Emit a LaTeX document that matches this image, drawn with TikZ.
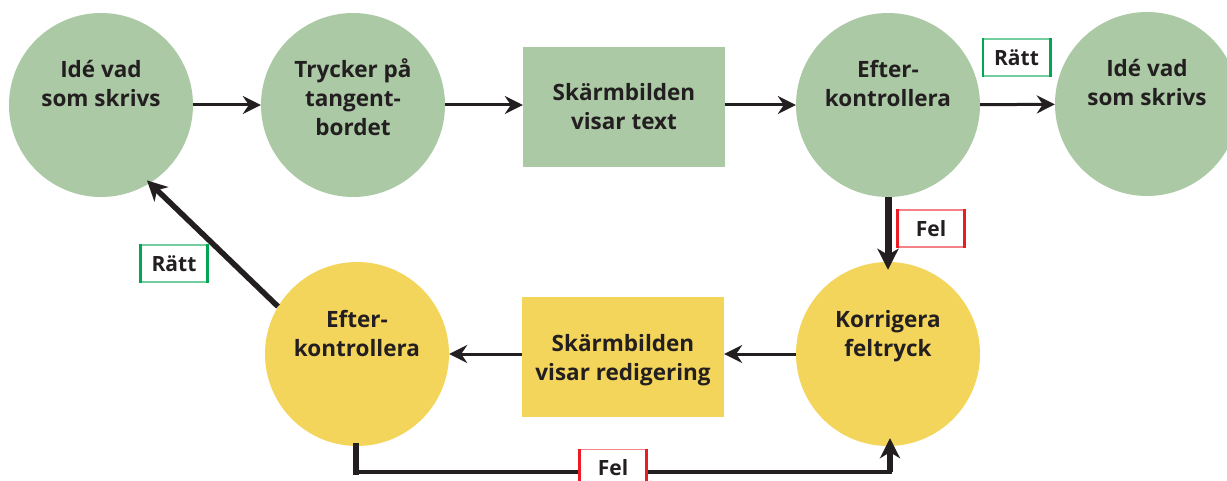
\documentclass[tikz,border=0pt]{standalone}
\usepackage{fontspec}
\setmainfont{Open Sans}
\usetikzlibrary{arrows.meta}

\definecolor{sage}{HTML}{ABC9A5}
\definecolor{sun}{HTML}{F4D55C}
\definecolor{ink}{HTML}{231F20}
\definecolor{okgreen}{HTML}{00A651}
\definecolor{errred}{HTML}{ED1C24}

\tikzset{
  disc/.style={circle, minimum size=184pt, inner sep=0pt, fill=#1},
  panel/.style={rectangle, minimum width=202pt, minimum height=120pt, inner sep=0pt, fill=#1},
  inscr/.style={font=\fontsize{22.5}{29}\selectfont\bfseries, text=ink, inner sep=0pt, anchor=base},
  verdictside/.style={draw=#1, line width=2.6pt, line cap=butt},
  verdict/.style={font=\fontsize{21}{25}\selectfont\bfseries, text=ink, fill=white,
    draw=#1!55, line width=1.4pt, minimum width=66pt, minimum height=37pt, inner sep=0pt,
    append after command={(\tikzlastnode.north west) edge[verdictside=#1] (\tikzlastnode.south west)
                          (\tikzlastnode.north east) edge[verdictside=#1] (\tikzlastnode.south east)}},
  tip/.style={-{Stealth[length=#1,width=#1,inset=6pt]}},
  flow/.style={draw=ink, line width=3pt, tip=18pt},
}

\newcommand{\twolines}[2]{\begin{tabular}[t]{@{}c@{}}#1\\#2\end{tabular}}
\newcommand{\threelines}[3]{\begin{tabular}[t]{@{}c@{}}#1\\#2\\#3\end{tabular}}

\begin{document}
\begin{tikzpicture}[x=1pt, y=-1pt]
  \useasboundingbox (0,0) rectangle (1227,481);

  % upper row: writing the text
  \node[disc=sage]  (c1) at (101,105) {};
  \node[disc=sage]  (c2) at (353,105) {};
  \node[panel=sage] (r1) at (624,107) {};
  \node[disc=sage]  (c4) at (888,105) {};
  \node[disc=sage]  (c5) at (1147,104) {};

  % lower row: correcting the text
  \node[disc=sun]   (y1) at (357,354) {};
  \node[panel=sun]  (r2) at (623,357) {};
  \node[disc=sun]   (y3) at (888,354) {};

  % texts
  \node[inscr] at ([yshift=27pt]c1.center) {\twolines{Idé vad}{som skrivs}};
  \node[inscr] at ([yshift=27pt]c2.center) {\threelines{Trycker på}{tangent-}{bordet}};
  \node[inscr] at ([yshift=6pt]r1.center)  {\twolines{Skärmbilden}{visar text}};
  \node[inscr] at ([yshift=27pt]c4.center) {\twolines{Efter-}{kontrollera}};
  \node[inscr] at ([yshift=27pt]c5.center) {\twolines{Idé vad}{som skrivs}};
  \node[inscr] at ([yshift=27pt]y1.center) {\twolines{Efter-}{kontrollera}};
  \node[inscr] at ([yshift=6pt]r2.center)  {\twolines{Skärmbilden}{visar redigering}};
  \node[inscr] at ([yshift=27pt]y3.center) {\twolines{Korrigera}{feltryck}};

  % connectors, upper row
  \draw[flow] (c1) -- (c2);
  \draw[flow] (c2.east) -- (r1.west |- c2.east);
  \draw[flow] (r1.east |- c4.west) -- (c4.west);
  \draw[flow] (c4) -- (c5);

  % down to correction
  \draw[draw=ink, line width=7pt, tip=21pt, shorten >=-8pt] (c4.south) -- (y3.north);

  % connectors, lower row
  \draw[flow] (y3.west) -- (r2.east |- y3.west);
  \draw[flow] (r2.west |- y1.east) -- (y1.east);

  % back to a new idea
  \draw[draw=ink, line width=5.5pt, tip=20pt, shorten >=-4pt] (y1.149) -- (c1.-58);

  % from the second check back to correction
  \coordinate (bl) at (356,472);
  \coordinate (br) at (890,472);
  \draw[draw=ink, line width=4pt, line join=miter] (y1.south -| bl) -- (bl) -- (br) -- (y3.south -| br);
  \draw[draw=ink, line width=6.5pt, line cap=rect] (y1.south -| bl) -- (bl);
  \draw[draw=ink, line width=6.5pt, tip=20pt, shorten >=-8pt] (br) -- (y3.south -| br);

  % verdict labels
  \node[verdict=okgreen] (ok1)  at (1016.5,57.5) {Rätt};
  \node[verdict=errred]  (err1) at (931,228.5)   {Fel};
  \node[verdict=okgreen] (ok2)  at (174,263.5)   {Rätt};
  \node[verdict=errred]  (err2) at (613,468)     {Fel};
\end{tikzpicture}
\end{document}
